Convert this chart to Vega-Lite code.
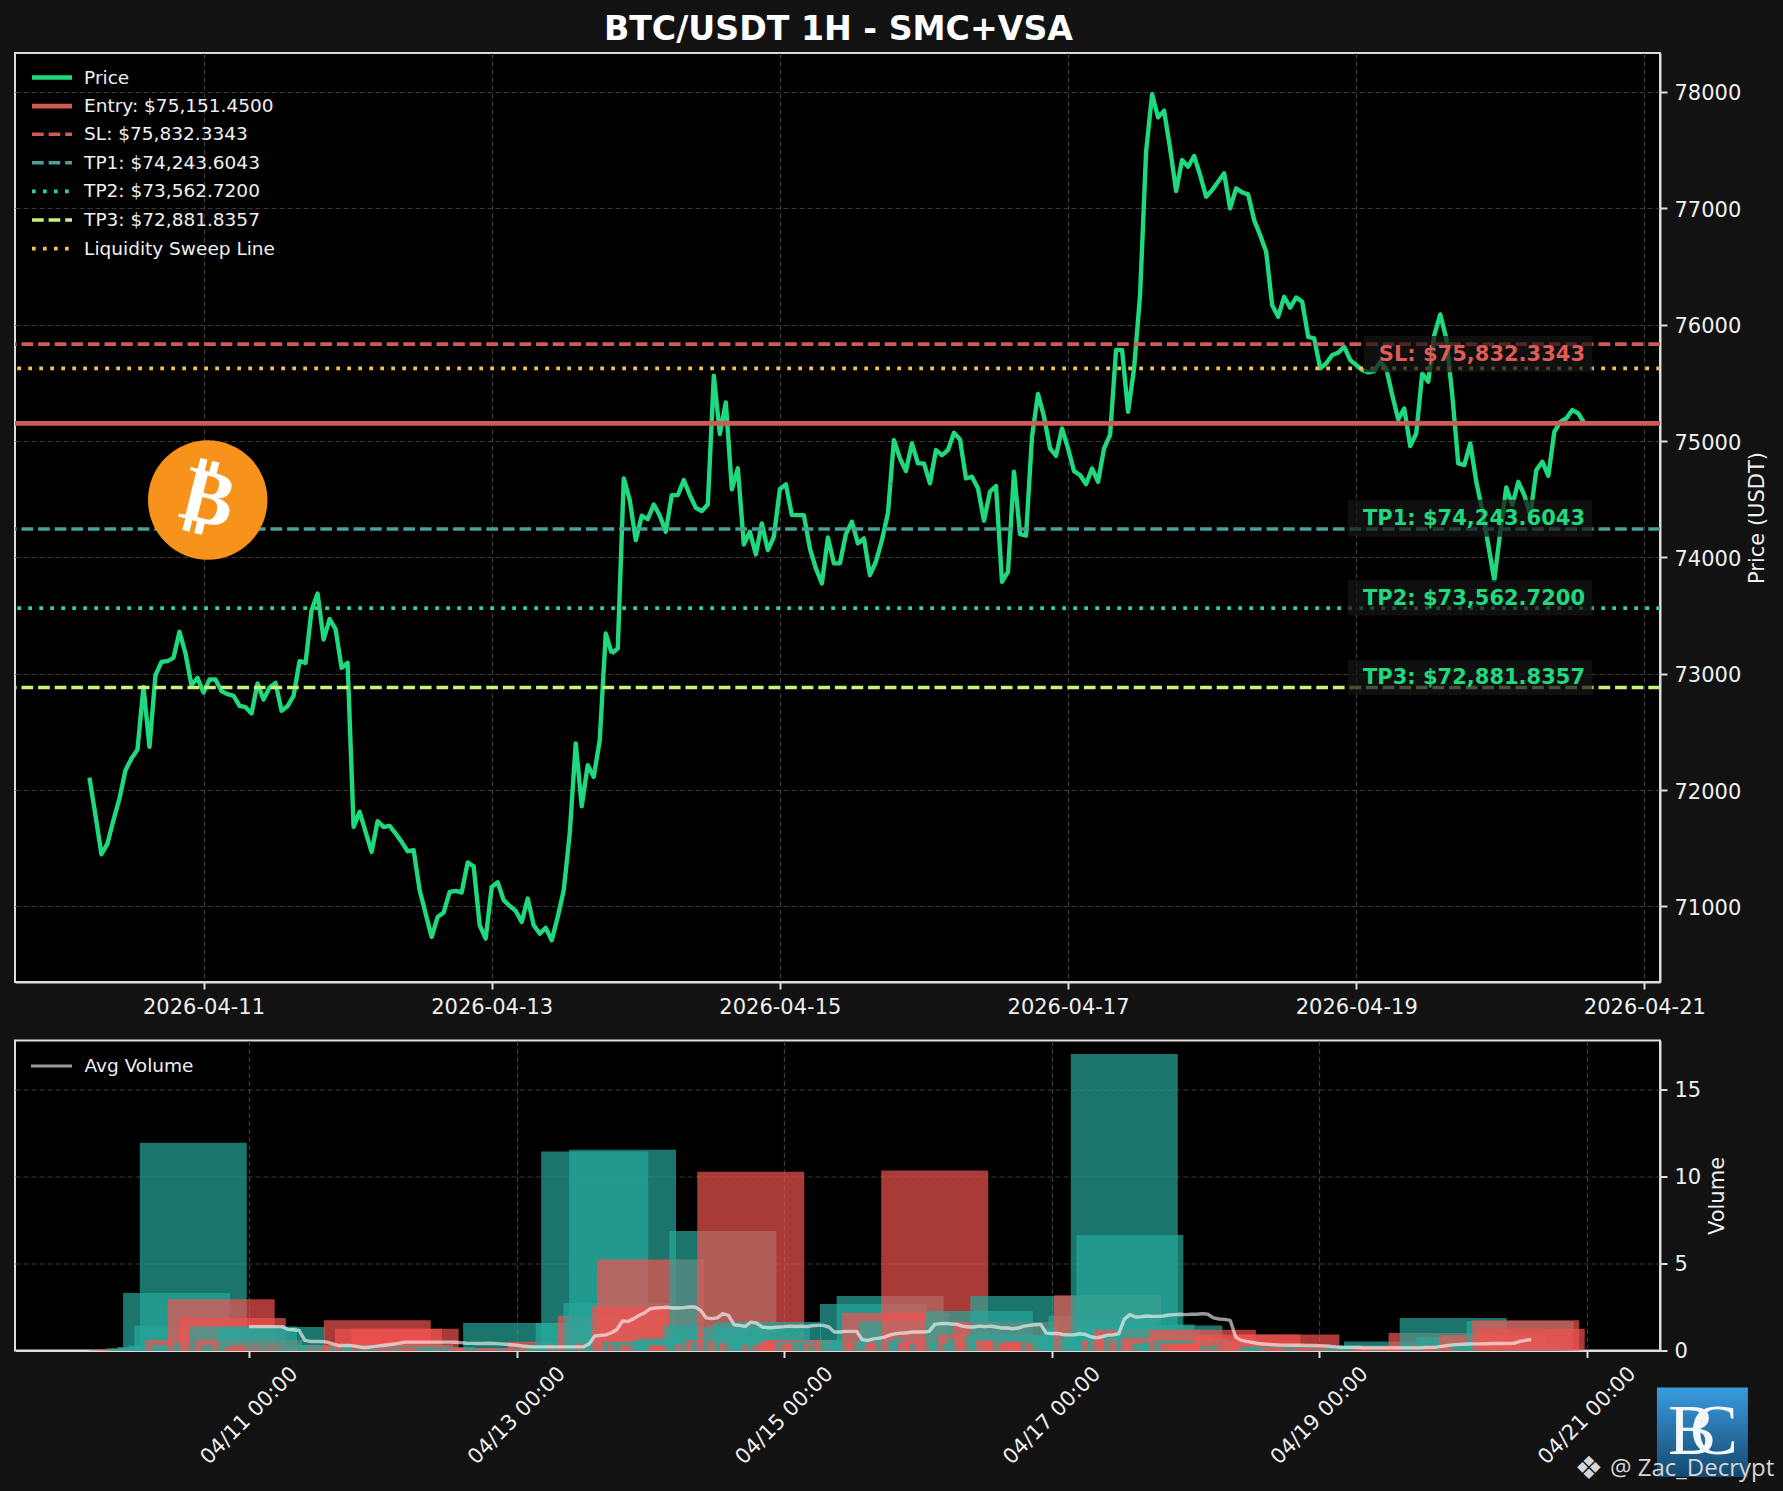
{
"$schema":"https://vega.github.io/schema/vega-lite/v6.json",
"background":"#121212",
"padding":{"left":11,"top":12,"right":16,"bottom":18},
"title":{"text":"BTC/USDT 1H - SMC+VSA","color":"#ffffff","font":"DejaVu Sans","fontSize":33.2,"fontWeight":"bold","anchor":"middle","offset":8,"dx":-55,"dy":3},
"config":{
 "font":"DejaVu Sans",
 "view":{"fill":"#000000","stroke":"#dddddd","strokeWidth":2},
 "axis":{"labelColor":"#f0f0f0","labelFontSize":21,"labelFont":"DejaVu Sans","titleColor":"#f0f0f0","titleFontSize":21,"titleFontWeight":"normal","titleFont":"DejaVu Sans","titleBaseline":"top","tickColor":"#dddddd","tickSize":7,"tickWidth":2,"domainColor":"#dddddd","domainWidth":2,"gridColor":"#3a3a3a","gridDash":[5,3],"gridWidth":1.2,"labelOverlap":false,"labelFlush":false},
 "legend":{"labelColor":"#f0f0f0","labelFontSize":18.5,"labelFont":"DejaVu Sans","labelLimit":400,"title":null,"padding":0}
},
"datasets":{
"hours":[
{"t":"2026-04-10T05:00:00Z","price":72107,"vol":0.03,"dir":"down"},
{"t":"2026-04-10T06:00:00Z","price":71784,"vol":0.04,"dir":"down"},
{"t":"2026-04-10T07:00:00Z","price":71448,"vol":0.06,"dir":"down"},
{"t":"2026-04-10T08:00:00Z","price":71540,"vol":0.13,"dir":"up"},
{"t":"2026-04-10T09:00:00Z","price":71741,"vol":0.1,"dir":"up"},
{"t":"2026-04-10T10:00:00Z","price":71927,"vol":0.2,"dir":"up"},
{"t":"2026-04-10T11:00:00Z","price":72170,"vol":3.3,"dir":"up"},
{"t":"2026-04-10T12:00:00Z","price":72271,"vol":0.3,"dir":"up"},
{"t":"2026-04-10T13:00:00Z","price":72348,"vol":1.44,"dir":"up"},
{"t":"2026-04-10T14:00:00Z","price":72887,"vol":11.93,"dir":"up"},
{"t":"2026-04-10T15:00:00Z","price":72371,"vol":0.62,"dir":"down"},
{"t":"2026-04-10T16:00:00Z","price":72987,"vol":0.3,"dir":"up"},
{"t":"2026-04-10T17:00:00Z","price":73102,"vol":0.25,"dir":"up"},
{"t":"2026-04-10T18:00:00Z","price":73108,"vol":0.2,"dir":"up"},
{"t":"2026-04-10T19:00:00Z","price":73136,"vol":2.94,"dir":"down"},
{"t":"2026-04-10T20:00:00Z","price":73360,"vol":0.5,"dir":"up"},
{"t":"2026-04-10T21:00:00Z","price":73174,"vol":1.87,"dir":"down"},
{"t":"2026-04-10T22:00:00Z","price":72901,"vol":0.25,"dir":"down"},
{"t":"2026-04-10T23:00:00Z","price":72964,"vol":1.38,"dir":"up"},
{"t":"2026-04-11T00:00:00Z","price":72838,"vol":0.6,"dir":"down","avg":1.37},
{"t":"2026-04-11T01:00:00Z","price":72950,"vol":0.3,"dir":"up","avg":1.37},
{"t":"2026-04-11T02:00:00Z","price":72950,"vol":0.2,"dir":"up","avg":1.37},
{"t":"2026-04-11T03:00:00Z","price":72850,"vol":0.3,"dir":"down","avg":1.37},
{"t":"2026-04-11T04:00:00Z","price":72824,"vol":1.35,"dir":"up","avg":1.37},
{"t":"2026-04-11T05:00:00Z","price":72810,"vol":0.15,"dir":"down","avg":1.37},
{"t":"2026-04-11T06:00:00Z","price":72724,"vol":0.3,"dir":"down","avg":1.37},
{"t":"2026-04-11T07:00:00Z","price":72712,"vol":0.1,"dir":"down","avg":1.21},
{"t":"2026-04-11T08:00:00Z","price":72658,"vol":0.2,"dir":"down","avg":1.19},
{"t":"2026-04-11T09:00:00Z","price":72916,"vol":0.25,"dir":"up","avg":1.15},
{"t":"2026-04-11T10:00:00Z","price":72778,"vol":0.15,"dir":"down","avg":0.58},
{"t":"2026-04-11T11:00:00Z","price":72881,"vol":0.1,"dir":"up","avg":0.52},
{"t":"2026-04-11T12:00:00Z","price":72921,"vol":0.12,"dir":"up","avg":0.52},
{"t":"2026-04-11T13:00:00Z","price":72681,"vol":0.15,"dir":"down","avg":0.52},
{"t":"2026-04-11T14:00:00Z","price":72721,"vol":0.1,"dir":"up","avg":0.48},
{"t":"2026-04-11T15:00:00Z","price":72810,"vol":0.1,"dir":"up","avg":0.38},
{"t":"2026-04-11T16:00:00Z","price":73108,"vol":0.3,"dir":"up","avg":0.29},
{"t":"2026-04-11T17:00:00Z","price":73093,"vol":0.1,"dir":"down","avg":0.29},
{"t":"2026-04-11T18:00:00Z","price":73546,"vol":0.2,"dir":"up","avg":0.29},
{"t":"2026-04-11T19:00:00Z","price":73689,"vol":0.3,"dir":"up","avg":0.25},
{"t":"2026-04-11T20:00:00Z","price":73294,"vol":0.2,"dir":"down","avg":0.19},
{"t":"2026-04-11T21:00:00Z","price":73469,"vol":0.15,"dir":"up","avg":0.17},
{"t":"2026-04-11T22:00:00Z","price":73383,"vol":0.1,"dir":"down","avg":0.21},
{"t":"2026-04-11T23:00:00Z","price":73050,"vol":1.73,"dir":"down","avg":0.25},
{"t":"2026-04-12T00:00:00Z","price":73093,"vol":0.2,"dir":"up","avg":0.29},
{"t":"2026-04-12T01:00:00Z","price":71683,"vol":1.25,"dir":"down","avg":0.33},
{"t":"2026-04-12T02:00:00Z","price":71812,"vol":0.3,"dir":"up","avg":0.37},
{"t":"2026-04-12T03:00:00Z","price":71640,"vol":0.35,"dir":"up","avg":0.42},
{"t":"2026-04-12T04:00:00Z","price":71468,"vol":1.25,"dir":"down","avg":0.48},
{"t":"2026-04-12T05:00:00Z","price":71732,"vol":0.15,"dir":"up","avg":0.48},
{"t":"2026-04-12T06:00:00Z","price":71683,"vol":0.15,"dir":"down","avg":0.48},
{"t":"2026-04-12T07:00:00Z","price":71692,"vol":0.2,"dir":"up","avg":0.48},
{"t":"2026-04-12T08:00:00Z","price":71626,"vol":0.1,"dir":"down","avg":0.48},
{"t":"2026-04-12T09:00:00Z","price":71554,"vol":0.1,"dir":"down","avg":0.48},
{"t":"2026-04-12T10:00:00Z","price":71474,"vol":0.1,"dir":"down","avg":0.48},
{"t":"2026-04-12T11:00:00Z","price":71483,"vol":0.1,"dir":"up","avg":0.48},
{"t":"2026-04-12T12:00:00Z","price":71139,"vol":0.1,"dir":"down","avg":0.48},
{"t":"2026-04-12T13:00:00Z","price":70938,"vol":0.1,"dir":"down","avg":0.47},
{"t":"2026-04-12T14:00:00Z","price":70737,"vol":0.1,"dir":"down","avg":0.45},
{"t":"2026-04-12T15:00:00Z","price":70909,"vol":0.1,"dir":"up","avg":0.42},
{"t":"2026-04-12T16:00:00Z","price":70947,"vol":0.1,"dir":"up","avg":0.41},
{"t":"2026-04-12T17:00:00Z","price":71124,"vol":0.1,"dir":"up","avg":0.4},
{"t":"2026-04-12T18:00:00Z","price":71133,"vol":0.08,"dir":"up","avg":0.4},
{"t":"2026-04-12T19:00:00Z","price":71119,"vol":0.1,"dir":"down","avg":0.42},
{"t":"2026-04-12T20:00:00Z","price":71377,"vol":0.15,"dir":"up","avg":0.4},
{"t":"2026-04-12T21:00:00Z","price":71345,"vol":0.1,"dir":"down","avg":0.38},
{"t":"2026-04-12T22:00:00Z","price":70838,"vol":0.15,"dir":"down","avg":0.36},
{"t":"2026-04-12T23:00:00Z","price":70723,"vol":0.12,"dir":"down","avg":0.33},
{"t":"2026-04-13T00:00:00Z","price":71167,"vol":1.58,"dir":"up","avg":0.3},
{"t":"2026-04-13T01:00:00Z","price":71207,"vol":0.1,"dir":"up","avg":0.26},
{"t":"2026-04-13T02:00:00Z","price":71053,"vol":0.1,"dir":"down","avg":0.23},
{"t":"2026-04-13T03:00:00Z","price":71004,"vol":0.08,"dir":"down","avg":0.21},
{"t":"2026-04-13T04:00:00Z","price":70961,"vol":0.1,"dir":"down","avg":0.21},
{"t":"2026-04-13T05:00:00Z","price":70866,"vol":0.1,"dir":"down","avg":0.21},
{"t":"2026-04-13T06:00:00Z","price":71067,"vol":0.15,"dir":"up","avg":0.21},
{"t":"2026-04-13T07:00:00Z","price":70838,"vol":0.12,"dir":"down","avg":0.21},
{"t":"2026-04-13T08:00:00Z","price":70766,"vol":0.5,"dir":"down","avg":0.21},
{"t":"2026-04-13T09:00:00Z","price":70815,"vol":0.1,"dir":"up","avg":0.21},
{"t":"2026-04-13T10:00:00Z","price":70709,"vol":0.15,"dir":"down","avg":0.21},
{"t":"2026-04-13T11:00:00Z","price":70909,"vol":0.2,"dir":"up","avg":0.21},
{"t":"2026-04-13T12:00:00Z","price":71139,"vol":0.3,"dir":"up","avg":0.21},
{"t":"2026-04-13T13:00:00Z","price":71626,"vol":1.58,"dir":"up","avg":0.38},
{"t":"2026-04-13T14:00:00Z","price":72400,"vol":11.43,"dir":"up","avg":0.83},
{"t":"2026-04-13T15:00:00Z","price":71861,"vol":0.3,"dir":"down","avg":0.87},
{"t":"2026-04-13T16:00:00Z","price":72214,"vol":0.3,"dir":"up","avg":0.9},
{"t":"2026-04-13T17:00:00Z","price":72113,"vol":2.0,"dir":"down","avg":1.02},
{"t":"2026-04-13T18:00:00Z","price":72429,"vol":2.73,"dir":"up","avg":1.21},
{"t":"2026-04-13T19:00:00Z","price":73346,"vol":11.53,"dir":"up","avg":1.69},
{"t":"2026-04-13T20:00:00Z","price":73174,"vol":0.4,"dir":"down","avg":1.67},
{"t":"2026-04-13T21:00:00Z","price":73217,"vol":0.3,"dir":"up","avg":1.83},
{"t":"2026-04-13T22:00:00Z","price":74679,"vol":0.9,"dir":"up","avg":2.02},
{"t":"2026-04-13T23:00:00Z","price":74492,"vol":2.54,"dir":"down","avg":2.17},
{"t":"2026-04-14T00:00:00Z","price":74148,"vol":5.23,"dir":"down","avg":2.4},
{"t":"2026-04-14T01:00:00Z","price":74358,"vol":0.5,"dir":"up","avg":2.44},
{"t":"2026-04-14T02:00:00Z","price":74329,"vol":0.3,"dir":"down","avg":2.46},
{"t":"2026-04-14T03:00:00Z","price":74455,"vol":0.4,"dir":"up","avg":2.48},
{"t":"2026-04-14T04:00:00Z","price":74358,"vol":0.3,"dir":"down","avg":2.44},
{"t":"2026-04-14T05:00:00Z","price":74220,"vol":0.3,"dir":"down","avg":2.44},
{"t":"2026-04-14T06:00:00Z","price":74535,"vol":0.5,"dir":"up","avg":2.46},
{"t":"2026-04-14T07:00:00Z","price":74535,"vol":0.7,"dir":"up","avg":2.5},
{"t":"2026-04-14T08:00:00Z","price":74664,"vol":0.4,"dir":"up","avg":2.5},
{"t":"2026-04-14T09:00:00Z","price":74535,"vol":0.3,"dir":"down","avg":2.31},
{"t":"2026-04-14T10:00:00Z","price":74426,"vol":0.3,"dir":"down","avg":1.87},
{"t":"2026-04-14T11:00:00Z","price":74398,"vol":0.2,"dir":"down","avg":1.83},
{"t":"2026-04-14T12:00:00Z","price":74455,"vol":1.44,"dir":"up","avg":1.87},
{"t":"2026-04-14T13:00:00Z","price":75561,"vol":6.86,"dir":"up","avg":2.12},
{"t":"2026-04-14T14:00:00Z","price":75060,"vol":0.4,"dir":"down","avg":2.02},
{"t":"2026-04-14T15:00:00Z","price":75332,"vol":0.5,"dir":"up","avg":1.48},
{"t":"2026-04-14T16:00:00Z","price":74584,"vol":0.6,"dir":"down","avg":1.44},
{"t":"2026-04-14T17:00:00Z","price":74765,"vol":0.5,"dir":"up","avg":1.38},
{"t":"2026-04-14T18:00:00Z","price":74111,"vol":10.27,"dir":"down","avg":1.63},
{"t":"2026-04-14T19:00:00Z","price":74220,"vol":1.35,"dir":"up","avg":1.58},
{"t":"2026-04-14T20:00:00Z","price":74025,"vol":0.5,"dir":"down","avg":1.35},
{"t":"2026-04-14T21:00:00Z","price":74292,"vol":1.63,"dir":"up","avg":1.31},
{"t":"2026-04-14T22:00:00Z","price":74062,"vol":0.4,"dir":"down","avg":1.31},
{"t":"2026-04-14T23:00:00Z","price":74177,"vol":0.5,"dir":"up","avg":1.35},
{"t":"2026-04-15T00:00:00Z","price":74587,"vol":0.6,"dir":"up","avg":1.37},
{"t":"2026-04-15T01:00:00Z","price":74627,"vol":0.4,"dir":"up","avg":1.4},
{"t":"2026-04-15T02:00:00Z","price":74363,"vol":0.3,"dir":"down","avg":1.38},
{"t":"2026-04-15T03:00:00Z","price":74363,"vol":0.3,"dir":"up","avg":1.4},
{"t":"2026-04-15T04:00:00Z","price":74363,"vol":0.3,"dir":"down","avg":1.38},
{"t":"2026-04-15T05:00:00Z","price":74077,"vol":0.5,"dir":"down","avg":1.42},
{"t":"2026-04-15T06:00:00Z","price":73905,"vol":0.6,"dir":"down","avg":1.44},
{"t":"2026-04-15T07:00:00Z","price":73776,"vol":0.5,"dir":"down","avg":1.44},
{"t":"2026-04-15T08:00:00Z","price":74171,"vol":0.5,"dir":"up","avg":1.35},
{"t":"2026-04-15T09:00:00Z","price":73948,"vol":0.4,"dir":"down","avg":1.06},
{"t":"2026-04-15T10:00:00Z","price":73948,"vol":0.4,"dir":"down","avg":1.06},
{"t":"2026-04-15T11:00:00Z","price":74200,"vol":0.5,"dir":"up","avg":1.1},
{"t":"2026-04-15T12:00:00Z","price":74306,"vol":0.3,"dir":"up","avg":1.1},
{"t":"2026-04-15T13:00:00Z","price":74120,"vol":0.4,"dir":"down","avg":1.1},
{"t":"2026-04-15T14:00:00Z","price":74163,"vol":0.3,"dir":"up","avg":0.62},
{"t":"2026-04-15T15:00:00Z","price":73847,"vol":0.6,"dir":"down","avg":0.58},
{"t":"2026-04-15T16:00:00Z","price":73962,"vol":2.67,"dir":"up","avg":0.67},
{"t":"2026-04-15T17:00:00Z","price":74148,"vol":0.4,"dir":"up","avg":0.71},
{"t":"2026-04-15T18:00:00Z","price":74378,"vol":0.6,"dir":"up","avg":0.77},
{"t":"2026-04-15T19:00:00Z","price":75008,"vol":3.13,"dir":"up","avg":0.9},
{"t":"2026-04-15T20:00:00Z","price":74851,"vol":2.17,"dir":"down","avg":0.96},
{"t":"2026-04-15T21:00:00Z","price":74742,"vol":0.5,"dir":"down","avg":1.0},
{"t":"2026-04-15T22:00:00Z","price":74980,"vol":0.5,"dir":"up","avg":1.02},
{"t":"2026-04-15T23:00:00Z","price":74808,"vol":1.67,"dir":"up","avg":1.06},
{"t":"2026-04-16T00:00:00Z","price":74808,"vol":0.4,"dir":"down","avg":1.06},
{"t":"2026-04-16T01:00:00Z","price":74636,"vol":0.5,"dir":"down","avg":1.06},
{"t":"2026-04-16T02:00:00Z","price":74922,"vol":0.7,"dir":"up","avg":1.1},
{"t":"2026-04-16T03:00:00Z","price":74879,"vol":10.33,"dir":"down","avg":1.5},
{"t":"2026-04-16T04:00:00Z","price":74922,"vol":0.5,"dir":"up","avg":1.54},
{"t":"2026-04-16T05:00:00Z","price":75071,"vol":0.7,"dir":"up","avg":1.56},
{"t":"2026-04-16T06:00:00Z","price":75014,"vol":0.5,"dir":"down","avg":1.52},
{"t":"2026-04-16T07:00:00Z","price":74679,"vol":0.7,"dir":"down","avg":1.5},
{"t":"2026-04-16T08:00:00Z","price":74693,"vol":0.4,"dir":"up","avg":1.4},
{"t":"2026-04-16T09:00:00Z","price":74593,"vol":0.5,"dir":"down","avg":1.35},
{"t":"2026-04-16T10:00:00Z","price":74315,"vol":0.6,"dir":"down","avg":1.35},
{"t":"2026-04-16T11:00:00Z","price":74564,"vol":2.27,"dir":"up","avg":1.4},
{"t":"2026-04-16T12:00:00Z","price":74613,"vol":0.5,"dir":"up","avg":1.37},
{"t":"2026-04-16T13:00:00Z","price":73790,"vol":0.9,"dir":"down","avg":1.4},
{"t":"2026-04-16T14:00:00Z","price":73876,"vol":0.4,"dir":"up","avg":1.35},
{"t":"2026-04-16T15:00:00Z","price":74736,"vol":0.7,"dir":"up","avg":1.29},
{"t":"2026-04-16T16:00:00Z","price":74200,"vol":1.63,"dir":"down","avg":1.29},
{"t":"2026-04-16T17:00:00Z","price":74186,"vol":0.5,"dir":"down","avg":1.25},
{"t":"2026-04-16T18:00:00Z","price":75037,"vol":0.9,"dir":"up","avg":1.29},
{"t":"2026-04-16T19:00:00Z","price":75404,"vol":3.13,"dir":"up","avg":1.4},
{"t":"2026-04-16T20:00:00Z","price":75209,"vol":0.6,"dir":"down","avg":1.44},
{"t":"2026-04-16T21:00:00Z","price":74936,"vol":0.5,"dir":"down","avg":1.48},
{"t":"2026-04-16T22:00:00Z","price":74873,"vol":0.5,"dir":"down","avg":1.5},
{"t":"2026-04-16T23:00:00Z","price":75108,"vol":0.6,"dir":"up","avg":1.0},
{"t":"2026-04-17T00:00:00Z","price":74936,"vol":0.4,"dir":"down","avg":0.98},
{"t":"2026-04-17T01:00:00Z","price":74741,"vol":0.5,"dir":"down","avg":0.98},
{"t":"2026-04-17T02:00:00Z","price":74707,"vol":0.3,"dir":"down","avg":0.92},
{"t":"2026-04-17T03:00:00Z","price":74629,"vol":0.4,"dir":"down","avg":0.9},
{"t":"2026-04-17T04:00:00Z","price":74764,"vol":0.5,"dir":"up","avg":0.9},
{"t":"2026-04-17T05:00:00Z","price":74649,"vol":0.4,"dir":"down","avg":0.96},
{"t":"2026-04-17T06:00:00Z","price":74936,"vol":0.6,"dir":"up","avg":0.92},
{"t":"2026-04-17T07:00:00Z","price":75051,"vol":0.5,"dir":"up","avg":0.79},
{"t":"2026-04-17T08:00:00Z","price":75782,"vol":1.3,"dir":"up","avg":0.73},
{"t":"2026-04-17T09:00:00Z","price":75782,"vol":2.0,"dir":"up","avg":0.79},
{"t":"2026-04-17T10:00:00Z","price":75251,"vol":3.17,"dir":"down","avg":0.88},
{"t":"2026-04-17T11:00:00Z","price":75624,"vol":0.8,"dir":"up","avg":0.9},
{"t":"2026-04-17T12:00:00Z","price":76254,"vol":1.0,"dir":"up","avg":0.96},
{"t":"2026-04-17T13:00:00Z","price":77487,"vol":17.03,"dir":"up","avg":1.79},
{"t":"2026-04-17T14:00:00Z","price":77980,"vol":6.63,"dir":"up","avg":2.06},
{"t":"2026-04-17T15:00:00Z","price":77782,"vol":0.6,"dir":"down","avg":1.92},
{"t":"2026-04-17T16:00:00Z","price":77839,"vol":1.5,"dir":"up","avg":1.94},
{"t":"2026-04-17T17:00:00Z","price":77515,"vol":1.2,"dir":"down","avg":1.98},
{"t":"2026-04-17T18:00:00Z","price":77149,"vol":0.6,"dir":"down","avg":1.96},
{"t":"2026-04-17T19:00:00Z","price":77415,"vol":0.9,"dir":"up","avg":1.96},
{"t":"2026-04-17T20:00:00Z","price":77358,"vol":0.5,"dir":"down","avg":1.98},
{"t":"2026-04-17T21:00:00Z","price":77450,"vol":1.44,"dir":"up","avg":2.04},
{"t":"2026-04-17T22:00:00Z","price":77286,"vol":0.73,"dir":"down","avg":2.06},
{"t":"2026-04-17T23:00:00Z","price":77100,"vol":0.5,"dir":"down","avg":2.08},
{"t":"2026-04-18T00:00:00Z","price":77157,"vol":0.4,"dir":"up","avg":2.06},
{"t":"2026-04-18T01:00:00Z","price":77229,"vol":0.4,"dir":"up","avg":2.08},
{"t":"2026-04-18T02:00:00Z","price":77301,"vol":0.5,"dir":"up","avg":2.08},
{"t":"2026-04-18T03:00:00Z","price":77000,"vol":1.19,"dir":"down","avg":2.12},
{"t":"2026-04-18T04:00:00Z","price":77172,"vol":0.6,"dir":"up","avg":2.08},
{"t":"2026-04-18T05:00:00Z","price":77137,"vol":0.4,"dir":"down","avg":1.87},
{"t":"2026-04-18T06:00:00Z","price":77120,"vol":0.3,"dir":"down","avg":1.81},
{"t":"2026-04-18T07:00:00Z","price":76899,"vol":0.3,"dir":"down","avg":1.79},
{"t":"2026-04-18T08:00:00Z","price":76770,"vol":0.4,"dir":"down","avg":1.73},
{"t":"2026-04-18T09:00:00Z","price":76627,"vol":0.3,"dir":"down","avg":0.77},
{"t":"2026-04-18T10:00:00Z","price":76168,"vol":0.3,"dir":"down","avg":0.58},
{"t":"2026-04-18T11:00:00Z","price":76068,"vol":0.92,"dir":"down","avg":0.52},
{"t":"2026-04-18T12:00:00Z","price":76240,"vol":0.3,"dir":"up","avg":0.46},
{"t":"2026-04-18T13:00:00Z","price":76146,"vol":0.2,"dir":"down","avg":0.4},
{"t":"2026-04-18T14:00:00Z","price":76234,"vol":0.2,"dir":"up","avg":0.37},
{"t":"2026-04-18T15:00:00Z","price":76197,"vol":0.2,"dir":"down","avg":0.35},
{"t":"2026-04-18T16:00:00Z","price":75896,"vol":0.3,"dir":"down","avg":0.33},
{"t":"2026-04-18T17:00:00Z","price":75882,"vol":0.2,"dir":"down","avg":0.31},
{"t":"2026-04-18T18:00:00Z","price":75624,"vol":0.92,"dir":"down","avg":0.31},
{"t":"2026-04-18T19:00:00Z","price":75667,"vol":0.2,"dir":"up","avg":0.3},
{"t":"2026-04-18T20:00:00Z","price":75739,"vol":0.2,"dir":"up","avg":0.3},
{"t":"2026-04-18T21:00:00Z","price":75759,"vol":0.15,"dir":"up","avg":0.3},
{"t":"2026-04-18T22:00:00Z","price":75810,"vol":0.2,"dir":"up","avg":0.29},
{"t":"2026-04-18T23:00:00Z","price":75696,"vol":0.15,"dir":"down","avg":0.29},
{"t":"2026-04-19T00:00:00Z","price":75653,"vol":0.1,"dir":"down","avg":0.28},
{"t":"2026-04-19T01:00:00Z","price":75610,"vol":0.1,"dir":"down","avg":0.26},
{"t":"2026-04-19T02:00:00Z","price":75590,"vol":0.1,"dir":"down","avg":0.24},
{"t":"2026-04-19T03:00:00Z","price":75601,"vol":0.1,"dir":"up","avg":0.21},
{"t":"2026-04-19T04:00:00Z","price":75681,"vol":0.1,"dir":"up","avg":0.19},
{"t":"2026-04-19T05:00:00Z","price":75624,"vol":0.1,"dir":"down","avg":0.18},
{"t":"2026-04-19T06:00:00Z","price":75395,"vol":0.15,"dir":"down","avg":0.18},
{"t":"2026-04-19T07:00:00Z","price":75185,"vol":0.15,"dir":"down","avg":0.17},
{"t":"2026-04-19T08:00:00Z","price":75280,"vol":0.1,"dir":"up","avg":0.15},
{"t":"2026-04-19T09:00:00Z","price":74956,"vol":0.2,"dir":"down","avg":0.15},
{"t":"2026-04-19T10:00:00Z","price":75065,"vol":0.15,"dir":"up","avg":0.15},
{"t":"2026-04-19T11:00:00Z","price":75581,"vol":0.25,"dir":"up","avg":0.15},
{"t":"2026-04-19T12:00:00Z","price":75509,"vol":0.1,"dir":"down","avg":0.15},
{"t":"2026-04-19T13:00:00Z","price":75910,"vol":0.3,"dir":"up","avg":0.15},
{"t":"2026-04-19T14:00:00Z","price":76088,"vol":0.52,"dir":"up","avg":0.15},
{"t":"2026-04-19T15:00:00Z","price":75882,"vol":0.2,"dir":"down","avg":0.15},
{"t":"2026-04-19T16:00:00Z","price":75395,"vol":0.2,"dir":"down","avg":0.15},
{"t":"2026-04-19T17:00:00Z","price":74807,"vol":0.25,"dir":"down","avg":0.15},
{"t":"2026-04-19T18:00:00Z","price":74793,"vol":0.1,"dir":"down","avg":0.15},
{"t":"2026-04-19T19:00:00Z","price":74979,"vol":0.15,"dir":"up","avg":0.17},
{"t":"2026-04-19T20:00:00Z","price":74649,"vol":0.2,"dir":"down","avg":0.18},
{"t":"2026-04-19T21:00:00Z","price":74406,"vol":0.2,"dir":"down","avg":0.19},
{"t":"2026-04-19T22:00:00Z","price":74105,"vol":1.0,"dir":"down","avg":0.24},
{"t":"2026-04-19T23:00:00Z","price":73804,"vol":0.3,"dir":"down","avg":0.29},
{"t":"2026-04-20T00:00:00Z","price":74220,"vol":1.87,"dir":"up","avg":0.32},
{"t":"2026-04-20T01:00:00Z","price":74601,"vol":0.3,"dir":"up","avg":0.35},
{"t":"2026-04-20T02:00:00Z","price":74449,"vol":0.3,"dir":"down","avg":0.36},
{"t":"2026-04-20T03:00:00Z","price":74649,"vol":0.77,"dir":"up","avg":0.37},
{"t":"2026-04-20T04:00:00Z","price":74535,"vol":0.2,"dir":"down","avg":0.38},
{"t":"2026-04-20T05:00:00Z","price":74363,"vol":0.3,"dir":"down","avg":0.38},
{"t":"2026-04-20T06:00:00Z","price":74750,"vol":0.35,"dir":"up","avg":0.39},
{"t":"2026-04-20T07:00:00Z","price":74821,"vol":0.87,"dir":"down","avg":0.4},
{"t":"2026-04-20T08:00:00Z","price":74701,"vol":0.3,"dir":"down","avg":0.4},
{"t":"2026-04-20T09:00:00Z","price":75079,"vol":0.4,"dir":"up","avg":0.4},
{"t":"2026-04-20T10:00:00Z","price":75165,"vol":0.2,"dir":"up","avg":0.41},
{"t":"2026-04-20T11:00:00Z","price":75194,"vol":0.2,"dir":"up","avg":0.42},
{"t":"2026-04-20T12:00:00Z","price":75266,"vol":1.7,"dir":"up","avg":0.52},
{"t":"2026-04-20T13:00:00Z","price":75237,"vol":1.73,"dir":"down","avg":0.58},
{"t":"2026-04-20T14:00:00Z","price":75151,"vol":1.25,"dir":"down","avg":0.63}
],
"levels":[
{"series":"Entry: $75,151.4500","price":75151.45},
{"series":"SL: $75,832.3343","price":75832.33},
{"series":"TP1: $74,243.6043","price":74243.6},
{"series":"TP2: $73,562.7200","price":73562.72},
{"series":"TP3: $72,881.8357","price":72881.84},
{"series":"Liquidity Sweep Line","price":75624}
],
"boxes":[
{"t0":"2026-04-19T01:17:00Z","t1":"2026-04-20T15:20:00Z","p0":75590,"p1":75902},
{"t0":"2026-04-18T22:37:00Z","t1":"2026-04-20T15:20:00Z","p0":74176,"p1":74495},
{"t0":"2026-04-18T22:37:00Z","t1":"2026-04-20T15:20:00Z","p0":73501,"p1":73806},
{"t0":"2026-04-18T22:37:00Z","t1":"2026-04-20T15:20:00Z","p0":72816,"p1":73118}
],
"labels":[
{"t":"2026-04-20T14:07:00Z","price":75741,"text":"SL: $75,832.3343","kind":"sl"},
{"t":"2026-04-20T14:07:00Z","price":74330,"text":"TP1: $74,243.6043","kind":"tp"},
{"t":"2026-04-20T14:07:00Z","price":73646,"text":"TP2: $73,562.7200","kind":"tp"},
{"t":"2026-04-20T14:07:00Z","price":72966,"text":"TP3: $72,881.8357","kind":"tp"}
],
"coin":[{"t":"2026-04-11T00:42:00Z","price":74492,"text":"₿"}],
"badge":[{"t0":"2026-04-21T12:33:00Z","t1":"2026-04-22T04:52:00Z","v0":-2.13,"v1":-7.26}],
"letters":[
{"t":"2026-04-21T18:50:00Z","vol":-4.67,"text":"B"},
{"t":"2026-04-21T22:48:00Z","vol":-4.67,"text":"C"}
],
"credit":[{"t":"2026-04-21T04:08:00Z","vol":-6.8,"text":"@ Zac_Decrypt"}],
"diamond":[{"t":"2026-04-21T00:20:00Z","vol":-6.8,"text":"❖"}]
},
"vconcat":[
{
 "width":1645,"height":929,
 "layer":[
  {
   "data":{"name":"hours"},
   "transform":[{"calculate":"'Price'","as":"series"}],
   "mark":{"type":"line","strokeJoin":"round"},
   "encoding":{
    "x":{"field":"t","type":"temporal","title":null,
     "scale":{"type":"utc","domain":["2026-04-09T16:36:00Z","2026-04-21T02:36:00Z"]},
     "axis":{"values":[1775865600000,1776038400000,1776211200000,1776384000000,1776556800000,1776729600000],"format":"%Y-%m-%d","labelPadding":7,"grid":true}},
    "y":{"field":"price","type":"quantitative","title":"Price (USDT)",
     "scale":{"domain":[70350,78335],"nice":false,"zero":false},
     "axis":{"orient":"right","values":[71000,72000,73000,74000,75000,76000,77000,78000],"format":"d","labelPadding":7,"labelOffset":2,"titleAngle":270,"titlePadding":6,"grid":true}},
    "color":{"field":"series","type":"nominal",
     "scale":{"domain":["Price","Entry: $75,151.4500","SL: $75,832.3343","TP1: $74,243.6043","TP2: $73,562.7200","TP3: $72,881.8357","Liquidity Sweep Line"],
      "range":["#1fd97e","#cf5b56","#cf5b56","#4a9f98","#2bd98a","#c6f27e","#f5c14e"]},
     "legend":{"orient":"none","legendX":24.5,"legendY":12,"symbolType":"M-2,0L2,0","symbolSize":400,"rowPadding":6.6,"labelOffset":19.6}},
    "strokeDash":{"field":"series","type":"nominal",
     "scale":{"domain":["Price","Entry: $75,151.4500","SL: $75,832.3343","TP1: $74,243.6043","TP2: $73,562.7200","TP3: $72,881.8357","Liquidity Sweep Line"],
      "range":[[1,0],[1,0],[11.7,4.9],[11.7,4.9],[3.7,7.3],[11.7,4.9],[3.7,7.3]]}},
    "strokeWidth":{"field":"series","type":"nominal",
     "scale":{"type":"ordinal","domain":["Price","Entry: $75,151.4500","SL: $75,832.3343","TP1: $74,243.6043","TP2: $73,562.7200","TP3: $72,881.8357","Liquidity Sweep Line"],
      "range":[4.4,4.6,3.6,3.6,3.8,3.6,3.8]}}
   }
  },
  {
   "data":{"name":"levels"},
   "mark":{"type":"rule"},
   "encoding":{
    "y":{"field":"price","type":"quantitative"},
    "color":{"field":"series","type":"nominal"},
    "strokeDash":{"field":"series","type":"nominal"},
    "strokeWidth":{"field":"series","type":"nominal",
     "scale":{"type":"ordinal","domain":["Price","Entry: $75,151.4500","SL: $75,832.3343","TP1: $74,243.6043","TP2: $73,562.7200","TP3: $72,881.8357","Liquidity Sweep Line"],
      "range":[4.4,4.6,3.6,3.6,3.8,3.6,3.8]}}
   }
  },
  {
   "data":{"name":"coin"},
   "mark":{"type":"point","filled":true,"shape":"circle","size":14275,"fill":"#f7931a","opacity":1,"stroke":null},
   "encoding":{"x":{"field":"t","type":"temporal"},"y":{"field":"price","type":"quantitative"}}
  },
  {
   "data":{"name":"coin"},
   "mark":{"type":"text","font":"DejaVu Sans","fontWeight":"bold","fontSize":78,"color":"#ffffff","angle":14,"align":"center","baseline":"middle"},
   "encoding":{"x":{"field":"t","type":"temporal"},"y":{"field":"price","type":"quantitative"},"text":{"field":"text"}}
  },
  {
   "data":{"name":"boxes"},
   "mark":{"type":"rect","fill":"#151515","opacity":0.72},
   "encoding":{
    "x":{"field":"t0","type":"temporal"},"x2":{"field":"t1"},
    "y":{"field":"p0","type":"quantitative"},"y2":{"field":"p1"}
   }
  },
  {
   "data":{"name":"labels"},
   "mark":{"type":"text","font":"DejaVu Sans","fontWeight":"bold","fontSize":21,"align":"right","baseline":"middle"},
   "encoding":{
    "x":{"field":"t","type":"temporal"},"y":{"field":"price","type":"quantitative"},
    "text":{"field":"text"},
    "fill":{"field":"kind","type":"nominal","scale":{"domain":["sl","tp"],"range":["#df5b56","#1fd97e"]},"legend":null}
   }
  }
 ]
},
{
 "width":1645,"height":310,
 "layer":[
  {
   "data":{"name":"hours"},
   "mark":{"type":"bar","width":107,"fillOpacity":0.7},
   "encoding":{
    "x":{"field":"t","type":"temporal","title":null,
     "scale":{"type":"utc","domain":["2026-04-09T06:01:00Z","2026-04-21T13:06:00Z"],"padding":0},
     "axis":{"values":[1775865600000,1776038400000,1776211200000,1776384000000,1776556800000,1776729600000],"format":"%m/%d %H:%M","labelAngle":-45,"labelAlign":"center","labelBaseline":"middle","labelPadding":58,"grid":true}},
    "y":{"field":"vol","type":"quantitative","title":"Volume",
     "scale":{"domain":[0,17.8],"nice":false},
     "axis":{"orient":"right","values":[0,5,10,15],"labelPadding":7,"labelOffset":1,"titleAngle":270,"titlePadding":6,"grid":true}},
    "fill":{"field":"dir","type":"nominal","scale":{"domain":["up","down"],"range":["#26a69a","#ef5350"]},"legend":null}
   }
  },
  {
   "data":{"name":"hours"},
   "mark":{"type":"line","strokeWidth":3.4,"opacity":0.6,"strokeJoin":"round"},
   "encoding":{
    "x":{"field":"t","type":"temporal"},
    "y":{"field":"avg","type":"quantitative"},
    "stroke":{"datum":"Avg Volume","scale":{"range":["#ffffff"]},"legend":{"orient":"none","legendX":14,"legendY":3,"symbolType":"stroke","symbolSize":1681,"symbolOpacity":0.6,"symbolStrokeWidth":3.2,"labelOffset":10.5}}
   }
  },
  {
   "data":{"name":"badge"},
   "mark":{"type":"rect","fill":{"x1":0,"y1":0,"x2":0,"y2":1,"gradient":"linear","stops":[{"offset":0,"color":"#3a9be0"},{"offset":1,"color":"#14486f"}]}},
   "encoding":{
    "x":{"field":"t0","type":"temporal"},"x2":{"field":"t1"},
    "y":{"field":"v0","type":"quantitative"},"y2":{"field":"v1"}
   }
  },
  {
   "data":{"name":"letters"},
   "mark":{"type":"text","font":"Liberation Serif","fontSize":72,"color":"#f4f8fb","align":"center","baseline":"middle"},
   "encoding":{"x":{"field":"t","type":"temporal"},"y":{"field":"vol","type":"quantitative"},"text":{"field":"text"}}
  },
  {
   "data":{"name":"credit"},
   "mark":{"type":"text","font":"Open Sans","fontSize":24,"color":"#d6d6d6","align":"left","baseline":"middle"},
   "encoding":{"x":{"field":"t","type":"temporal"},"y":{"field":"vol","type":"quantitative"},"text":{"field":"text"}}
  },
  {
   "data":{"name":"diamond"},
   "mark":{"type":"text","font":"DejaVu Sans","fontSize":32,"color":"#d6d6d6","align":"center","baseline":"middle"},
   "encoding":{"x":{"field":"t","type":"temporal"},"y":{"field":"vol","type":"quantitative"},"text":{"field":"text"}}
  }
 ]
}
],
"bounds":"flush",
"spacing":58.5,
"resolve":{
 "scale":{"color":"independent","fill":"independent","stroke":"independent","strokeDash":"independent","strokeWidth":"independent"},
 "legend":{"color":"independent","fill":"independent","stroke":"independent","strokeDash":"independent","strokeWidth":"independent"}
}
}
